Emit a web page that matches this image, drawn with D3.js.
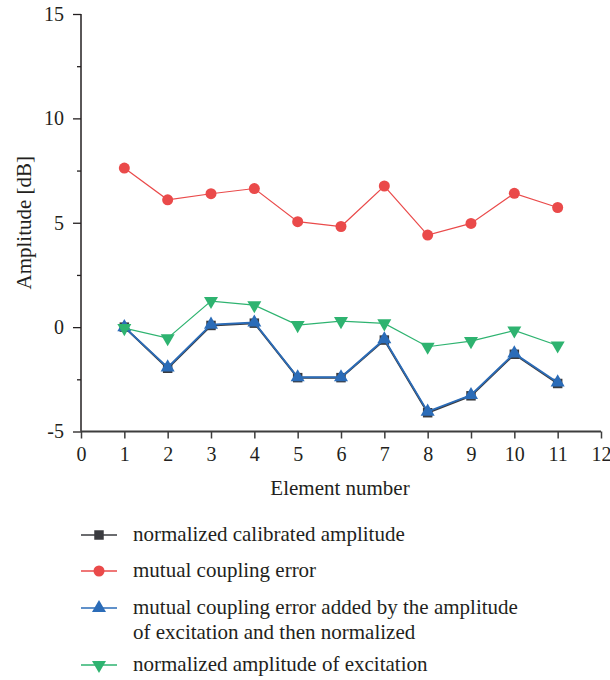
<!DOCTYPE html>
<html>
<head>
<meta charset="utf-8">
<script src="https://cdn.jsdelivr.net/npm/d3@7"></script>
<style>
  body { margin: 0; background: #fff; }
  svg text { font-family: "Liberation Serif", "DejaVu Serif", serif; fill: #231f20; }
</style>
</head>
<body>
<svg id="chart" width="610" height="680"></svg>
<script>
// element numbers
const elements = [1, 2, 3, 4, 5, 6, 7, 8, 9, 10, 11];

// series values (dB)
const calibrated = [0, -1.97, 0.08, 0.19, -2.42, -2.42, -0.62, -4.1, -3.29, -1.3, -2.7];
const couplingError = [7.62, 6.1, 6.39, 6.64, 5.05, 4.82, 6.76, 4.41, 4.97, 6.41, 5.73];
const couplingPlusExcitation = [0, -1.93, 0.12, 0.22, -2.4, -2.4, -0.58, -4.05, -3.25, -1.26, -2.65];
const excitation = [-0.05, -0.53, 1.25, 1.05, 0.1, 0.29, 0.18, -0.94, -0.67, -0.16, -0.88];

const xTicks = [0, 1, 2, 3, 4, 5, 6, 7, 8, 9, 10, 11, 12];
const yTicks = [-5, 0, 5, 10, 15];
const yMinorTicks = [-2.5, 2.5, 7.5, 12.5];

const legendLabels = [
  ['normalized calibrated amplitude'],
  ['mutual coupling error'],
  ['mutual coupling error added by the amplitude', 'of excitation and then normalized'],
  ['normalized amplitude of excitation']
];

const svg = d3.select('#chart');
const x = d3.scaleLinear().domain([0, 12]).range([81, 601]);
const y = d3.scaleLinear().domain([-5, 15]).range([431.5, 14]);

// plain hyphen for negatives, like the original
const fmt = d => String(d);

// y axis
const yAxis = svg.append('g').attr('transform', 'translate(81,0)');
yAxis.call(d3.axisLeft(y).tickValues(yTicks).tickSize(8).tickPadding(9).tickFormat(fmt));
yAxis.select('.domain').attr('stroke', '#231f20').attr('stroke-width', 1.5).attr('d', `M0,${y(15)}V${y(-5)}`);
yAxis.selectAll('.tick line').attr('stroke', '#231f20').attr('stroke-width', 1.3);
yAxis.selectAll('.tick text').attr('font-size', 20).style('font-family', '"Liberation Serif", serif').attr('fill', '#231f20');

const yMinor = svg.append('g').attr('transform', 'translate(81,0)');
yMinor.call(d3.axisLeft(y).tickValues(yMinorTicks).tickSize(4).tickFormat(''));
yMinor.select('.domain').remove();
yMinor.selectAll('.tick line').attr('stroke', '#231f20').attr('stroke-width', 1.3);

// x axis
const xAxis = svg.append('g').attr('transform', `translate(0,${y(-5)})`);
xAxis.call(d3.axisBottom(x).tickValues(xTicks).tickSize(7).tickPadding(8).tickFormat(fmt));
xAxis.select('.domain').attr('stroke', '#3d3d3d').attr('stroke-width', 2.2).attr('d', `M${x(0)},0H${x(12)}`);
xAxis.selectAll('.tick line').attr('stroke', '#3d3d3d').attr('stroke-width', 1.5);
xAxis.selectAll('.tick text').attr('font-size', 20).style('font-family', '"Liberation Serif", serif').attr('fill', '#231f20');

// axis titles
svg.append('text')
  .attr('transform', `translate(31,${(y(15) + y(-5)) / 2}) rotate(-90)`)
  .attr('text-anchor', 'middle')
  .attr('font-size', 21)
  .text('Amplitude [dB]');

svg.append('text')
  .attr('x', 340)
  .attr('y', 495)
  .attr('text-anchor', 'middle')
  .attr('font-size', 21)
  .text('Element number');

const series = [
  { name: 'calibrated', values: calibrated, color: '#3a3b3f', width: 2, marker: 'square' },
  { name: 'blue', values: couplingPlusExcitation, color: '#2b6cb8', width: 1.8, marker: 'up' },
  { name: 'red', values: couplingError, color: '#ea4a4a', width: 1.2, marker: 'circle' },
  { name: 'green', values: excitation, color: '#2eb370', width: 1.2, marker: 'down' }
];

const symbolFor = {
  square: d3.symbol().type(d3.symbolSquare).size(90),
  circle: d3.symbol().type(d3.symbolCircle).size(95),
  up: d3.symbol().type(d3.symbolTriangle).size(85),
  down: d3.symbol().type(d3.symbolTriangle).size(85)
};

const line = d3.line().x(d => x(d[0])).y(d => y(d[1]));

series.forEach((s) => {
  const pts = elements.map((e, i) => [e, s.values[i]]);
  const g = svg.append('g').attr('class', s.name);
  g.append('path')
    .attr('d', line(pts))
    .attr('fill', 'none')
    .attr('stroke', s.color)
    .attr('stroke-width', s.width);
  g.selectAll('path.mk')
    .data(pts)
    .enter()
    .append('path')
    .attr('class', 'mk')
    .attr('d', symbolFor[s.marker])
    .attr('fill', s.color)
    .attr('transform', d => `translate(${x(d[0])},${y(d[1])})${s.marker === 'down' ? ' rotate(180)' : ''}`);
});

// legend
const legendOrder = [series[0], series[2], series[1], series[3]];
const legendY = [535, 571, 608, 665];
const legend = svg.append('g').attr('class', 'legend');
legendOrder.forEach((s, i) => {
  const ly = legendY[i];
  legend.append('line')
    .attr('x1', 81).attr('x2', 117)
    .attr('y1', ly).attr('y2', ly)
    .attr('stroke', s.color)
    .attr('stroke-width', 1.3);
  legend.append('path')
    .attr('d', symbolFor[s.marker])
    .attr('fill', s.color)
    .attr('transform', `translate(99,${ly})${s.marker === 'down' ? ' rotate(180)' : ''}`);
  legendLabels[i].forEach((t, j) => {
    legend.append('text')
      .attr('x', 133)
      .attr('y', ly + 6 + j * 25)
      .attr('font-size', 21)
      .text(t);
  });
});
</script>
</body>
</html>
